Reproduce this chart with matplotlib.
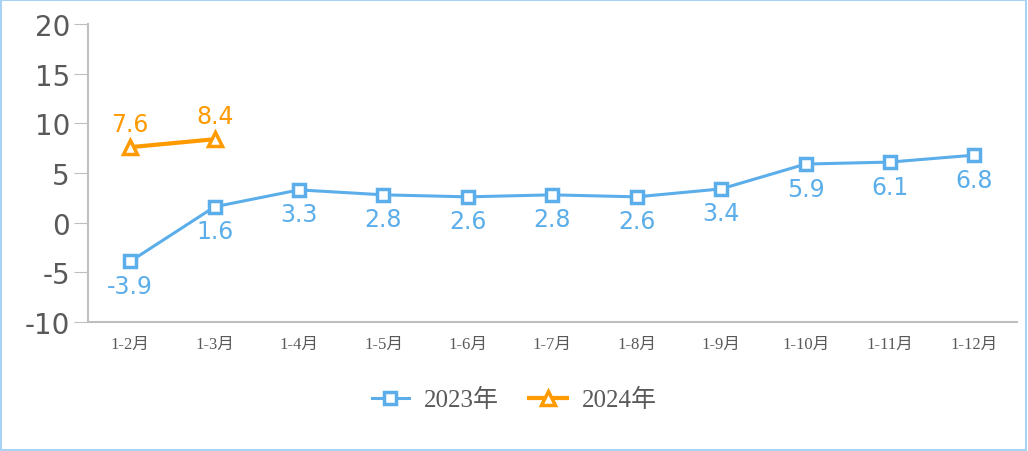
import matplotlib
matplotlib.use('Agg')
import matplotlib.pyplot as plt
from matplotlib.patches import Rectangle

categories = ['1-2月', '1-3月', '1-4月', '1-5月', '1-6月', '1-7月',
              '1-8月', '1-9月', '1-10月', '1-11月', '1-12月']
values_2023 = [-3.9, 1.6, 3.3, 2.8, 2.6, 2.8, 2.6, 3.4, 5.9, 6.1, 6.8]
values_2024 = [7.6, 8.4]
y_ticks = [-10, -5, 0, 5, 10, 15, 20]

blue = '#5BAEEA'
orange = '#FF9A00'
grey = '#595959'

fig = plt.figure(figsize=(10.28, 4.52), dpi=100)
ax = fig.add_axes([0.0856, 0.2854, 0.9034, 0.6593])

x23 = list(range(len(values_2023)))
x24 = list(range(len(values_2024)))
ax.plot(x23, values_2023, color=blue, lw=2.2, marker='s', ms=8,
        mfc='white', mec=blue, mew=2.5, label='2023年', zorder=3)
ax.plot(x24, values_2024, color=orange, lw=3, marker='^', ms=10,
        mfc='white', mec=orange, mew=2.5, label='2024年', zorder=3)

for x, v in zip(x23, values_2023):
    ax.annotate('{:.1f}'.format(v), (x, v), xytext=(0, -9), textcoords='offset points',
                ha='center', va='top', color=blue, fontsize=17, family='DejaVu Sans')
for x, v in zip(x24, values_2024):
    ax.annotate('{:.1f}'.format(v), (x, v), xytext=(0, 8), textcoords='offset points',
                ha='center', va='bottom', color=orange, fontsize=17, family='DejaVu Sans')

ax.set_xlim(-0.5, len(categories) - 0.5)
ax.set_ylim(-10, 20)
ax.set_yticks(y_ticks)
ax.set_yticklabels([str(t) for t in y_ticks], fontsize=20, color=grey, family='DejaVu Sans')
ax.set_xticks(x23)
ax.set_xticklabels(categories, fontsize=12, color=grey,
                   family=['Liberation Serif', 'Noto Sans CJK SC'])
ax.tick_params(axis='x', length=0, pad=10)
ax.tick_params(axis='y', length=10, color='#BFBFBF', pad=3)
for side in ['top', 'right']:
    ax.spines[side].set_visible(False)
ax.spines['left'].set_color('#BFBFBF')
ax.spines['bottom'].set_color('#BFBFBF')
ax.spines['left'].set_linewidth(1.5)
ax.spines['bottom'].set_linewidth(1.5)

leg = fig.legend(loc='center', bbox_to_anchor=(0.5, 0.113), ncol=2, frameon=False,
                 prop={'family': ['Liberation Serif', 'Noto Sans CJK SC'], 'size': 18},
                 handlelength=1.5, columnspacing=1.2, handletextpad=0.6)
for t in leg.get_texts():
    t.set_color(grey)

fig.patches.append(Rectangle((0.001, 0.002), 0.997, 0.995, transform=fig.transFigure,
                             fill=False, edgecolor='#A9D3F5', lw=1.5))

fig.savefig('out.png', dpi=100, facecolor='white')
